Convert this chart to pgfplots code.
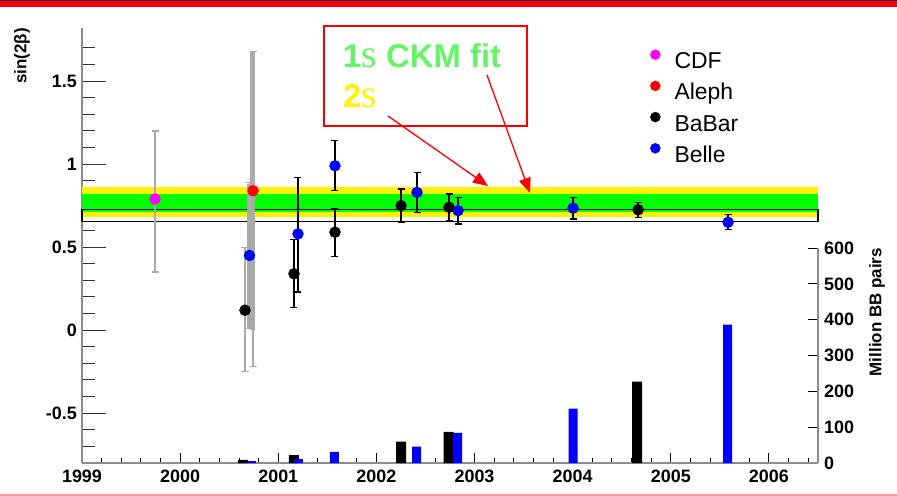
\documentclass[border=0pt]{standalone}
\usepackage{pgfplots}
\pgfplotsset{compat=1.18}
\usepackage{fontspec}
\setmainfont{Liberation Sans}
\newfontfamily\seriffont{Liberation Serif}
\usetikzlibrary{arrows.meta}
\definecolor{ckmgreen}{RGB}{0,255,0}
\definecolor{txtgreen}{RGB}{100,245,100}
\definecolor{axgray}{RGB}{140,140,140}
\definecolor{errgray}{RGB}{170,170,170}
\definecolor{cdfmag}{RGB}{255,0,255}
\pgfplotsset{
  errplot/.style={forget plot, only marks, mark=none,
    error bars/.cd, y dir=both, y explicit,
    error bar style={#1, line width=1.3bp},
    error mark options={#1, rotate=90, mark size=3.5bp, line width=1.2bp}},
  thickerr/.style={forget plot, only marks, mark=none,
    error bars/.cd, y dir=both, y explicit,
    error bar style={#1, line width=4.5bp}, error mark=none},
  dots/.style={forget plot, only marks, mark=*, mark size=5.5bp, #1, mark options={draw=#1, fill=#1}},
}
\begin{document}
\begin{tikzpicture}
\useasboundingbox (0,0) rectangle (897bp,496bp);
\fill[white] (0,0) rectangle (897bp,496bp);
\fill[red] (0,489bp) rectangle (897bp,495bp);
\fill[blue!50!black] (0,495bp) rectangle (897bp,496bp);
\fill[red!40] (0,0.5bp) rectangle (897bp,2bp);

% ---------- bar axis (Million BB pairs) ----------
\begin{axis}[at={(82bp,33bp)}, anchor=south west, scale only axis,
  width=736bp, height=435bp,
  xmin=1999, xmax=2006.5, ymin=0, ymax=1214,
  axis x line*=bottom, axis y line*=right,
  y axis line style={draw=none},
  x axis line style={axgray, line width=1.3bp},
  xtick={1999,2000,2001,2002,2003,2004,2005,2006},
  xticklabels={1999,2000,2001,2002,2003,2004,2005,2006},
  minor xtick={1999.2,1999.4,1999.6,1999.8,2000.2,2000.4,2000.6,2000.8,2001.2,2001.4,2001.6,2001.8,2002.2,2002.4,2002.6,2002.8,2003.2,2003.4,2003.6,2003.8,2004.2,2004.4,2004.6,2004.8,2005.2,2005.4,2005.6,2005.8,2006.2,2006.4},
  ytick={0,100,200,300,400,500,600},
  yticklabels={0,100,200,300,400,500,600},
  tick align=inside,
  major tick length=10bp, minor tick length=5bp,
  every tick/.style={black, line width=1bp},
  ticklabel style={font=\bfseries\fontsize{18}{18}\selectfont, inner sep=0pt},
  xticklabel style={yshift=-7bp},
  yticklabel style={xshift=6bp},
  clip=false,
]
\addplot[ybar, bar width=10bp, bar shift=0pt, fill=black, draw=none] coordinates {
  (2000.641,9) (2001.160,22) (2002.251,60) (2002.735,87) (2004.656,227)};
\addplot[ybar, bar width=9bp, bar shift=0pt, fill=blue, draw=none] coordinates {
  (2000.727,5) (2001.206,11) (2001.573,31) (2002.409,46) (2002.827,84) (2004.004,152) (2005.578,386)};
\addplot[axgray, line width=1.3bp] coordinates {(2006.5,0) (2006.5,600)};
\end{axis}

% ---------- sin(2beta) axis ----------
\begin{axis}[at={(82bp,33bp)}, anchor=south west, scale only axis,
  width=736bp, height=435bp,
  xmin=1999, xmax=2006.5, ymin=-0.8, ymax=1.82,
  axis x line=none, axis y line*=left,
  y axis line style={axgray, line width=1.3bp},
  ytick={-0.5,0,0.5,1,1.5},
  yticklabels={-0.5,0,0.5,1,1.5},
  minor ytick={-0.7,-0.6,-0.4,-0.3,-0.2,-0.1,0.1,0.2,0.3,0.4,0.6,0.7,0.8,0.9,1.1,1.2,1.3,1.4,1.6,1.7},
  tick align=inside,
  major tick length=24bp, minor tick length=13bp,
  every tick/.style={black!80, line width=1bp},
  yticklabel style={font=\bfseries\fontsize{18}{18}\selectfont, inner sep=0pt, xshift=-5bp},
  clip=false,
  legend style={at={(0.7717,0.951)}, anchor=north west, draw=none, fill=none,
    inner sep=0pt, column sep=14bp, row sep=7bp,
    font=\fontsize{23}{23}\selectfont,
    nodes={inner sep=0pt, text height=17bp, text depth=5bp}},
  legend cell align=left,
  legend image code/.code={\fill[#1] (0bp,8bp) circle (5bp);},
]
\addlegendimage{cdfmag}\addlegendentry{CDF}
\addlegendimage{red}\addlegendentry{Aleph}
\addlegendimage{black}\addlegendentry{BaBar}
\addlegendimage{blue}\addlegendentry{Belle}

% CKM fit band
\addplot[forget plot, fill=yellow, draw=none] coordinates {(1999,0.683) (2006.5,0.683) (2006.5,0.862) (1999,0.862)} -- cycle;
\addplot[forget plot, fill=ckmgreen, draw=none] coordinates {(1999,0.712) (2006.5,0.712) (2006.5,0.823) (1999,0.823)} -- cycle;
\addplot[forget plot, black, line width=1.1bp] coordinates {(1999,0.657) (2006.5,0.657) (2006.5,0.727) (1999,0.727) (1999,0.657)};

% gray (early) error bars
\addplot[errplot=errgray] coordinates {(1999.744,0.79) += (0,0.41) -= (0,0.44)};
\addplot[errplot=errgray] coordinates {(2000.661,0.12) += (0,0.38) -= (0,0.37)};
\addplot[errplot=errgray] coordinates {(2000.743,0.84) += (0,0.84) -= (0,1.06)};
\addplot[thickerr=errgray] coordinates {(2000.735,0.84) += (0,0.84) -= (0,0.84)};
\addplot[thickerr=errgray] coordinates {(2000.700,0.45) += (0,0.43) -= (0,0.44)};
\addplot[errplot=errgray] coordinates {(2000.707,0.45) += (0,0.44) -= (0,0.44)};

% black error bars
\addplot[errplot=black] coordinates {
  (2001.160,0.34) +- (0,0.205)
  (2001.578,0.59) +- (0,0.145)
  (2002.251,0.75) +- (0,0.10)
  (2002.740,0.74) +- (0,0.08)
  (2004.667,0.725) +- (0,0.045)};
\addplot[errplot=black] coordinates {
  (2001.201,0.58) += (0,0.34) -= (0,0.35)
  (2001.578,0.99) +- (0,0.15)
  (2002.414,0.83) +- (0,0.12)
  (2002.832,0.72) +- (0,0.08)
  (2004.004,0.735) +- (0,0.065)
  (2005.584,0.65) +- (0,0.045)};

% points
\addplot[dots=cdfmag] coordinates {(1999.744,0.79)};
\addplot[dots=red] coordinates {(2000.743,0.84)};
\addplot[dots=black] coordinates {(2000.661,0.12) (2001.160,0.34) (2001.578,0.59) (2002.251,0.75) (2002.740,0.74) (2004.667,0.725)};
\addplot[dots=blue] coordinates {(2000.707,0.45) (2001.201,0.58) (2001.578,0.99) (2002.414,0.83) (2002.832,0.72) (2004.004,0.735) (2005.584,0.65)};
\end{axis}

% axis titles
\node[rotate=90, anchor=east, font=\bfseries\fontsize{17}{17}\selectfont, inner sep=0pt] at (22bp,468bp) {sin(2β)};
\node[rotate=90, anchor=east, font=\bfseries\fontsize{17}{17}\selectfont, inner sep=0pt] at (877bp,248bp) {Million BB pairs};

% annotation box and arrows
\draw[red, line width=1.6bp] (324bp,370bp) rectangle (527bp,470bp);
\node[anchor=base west, inner sep=0pt, text=txtgreen, font=\bfseries\fontsize{33}{33}\selectfont] at (343bp,428bp) {1{\seriffont\mdseries\fontsize{40}{40}\selectfont s} CKM fit};
\node[anchor=base west, inner sep=0pt, text=yellow, font=\bfseries\fontsize{33}{33}\selectfont] at (343bp,388bp) {2{\seriffont\mdseries\fontsize{40}{40}\selectfont s}};
\draw[red, line width=1.3bp, -{Triangle[length=15bp, width=12bp]}] (388bp,380bp) -- (488bp,310bp);
\draw[red, line width=1.3bp, -{Triangle[length=15bp, width=12bp]}] (487bp,421bp) -- (530bp,303bp);
\end{tikzpicture}
\end{document}
